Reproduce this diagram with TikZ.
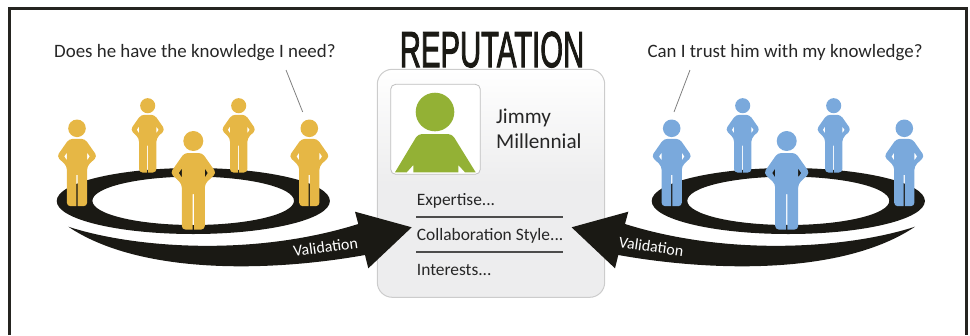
\documentclass[tikz,border=0pt]{standalone}
\usepackage{fontspec}
\setmainfont{Carlito}
\newfontfamily\titlefont[FakeBold=2.5]{Liberation Sans}
\definecolor{persongold}{HTML}{E6B745}
\definecolor{personblue}{HTML}{7AA9DC}
\definecolor{persongreen}{HTML}{93B135}
\definecolor{ringblack}{HTML}{1A1914}
\definecolor{inktext}{HTML}{262626}
\definecolor{cardgrey}{HTML}{EDEDEE}
\tikzset{
    person/.pic={
        \fill[pic actions, even odd rule] (0,0) circle (10)
            [rounded corners=3.5] (-9,12) -- (9,12) -- (23,32) -- (11.5,43) -- (11.5,88.5)
            [sharp corners] -- (0.7,88.5) -- (0.7,53) -- (-0.7,53) -- (-0.7,88.5)
            [rounded corners=3.5] -- (-11.5,88.5) -- (-11.5,43) -- (-23,32) -- cycle
            [sharp corners] (11.5,27.5) -- (14.5,32) -- (11.5,36.5) -- cycle
            (-11.5,27.5) -- (-14.5,32) -- (-11.5,36.5) -- cycle;
    },
    valarrow/.pic={
        \fill[ringblack] (68.3,226.7) .. controls (130,247) and (250,258) .. (358.3,224)
            -- (355,211.7) -- (411.7,227.3) -- (368.3,268.3) -- (365,255)
            .. controls (270,272) and (140,275) .. (68.3,226.7) -- cycle;
    },
    ring/.style={fill=ringblack, even odd rule},
    question/.style={font=\fontsize{18.9}{22}\selectfont, text=inktext, anchor=base west, inner sep=0pt},
    cardtext/.style={font=\fontsize{17.4}{20}\selectfont, text=inktext, anchor=base west, inner sep=0pt},
    nametext/.style={font=\fontsize{21.2}{24}\selectfont, text=inktext, anchor=base west, inner sep=0pt},
    validation/.style={font=\fontsize{16}{18}\selectfont, text=white, inner sep=0pt},
    leader/.style={draw=gray, line width=0.8pt},
    rowline/.style={draw=black!70, line width=1.2pt},
}
\begin{document}
\begin{tikzpicture}[x=1pt, y=-1pt]
\useasboundingbox (0,0) rectangle (970,335);
% frame
\draw[line width=2.7pt, color=ringblack!95] (9.5,335) |- (966.3,8.5) -- (966.3,335);

% reputation card
\node[font=\titlefont\fontsize{50.5}{52}\selectfont, xscale=0.58, text=ringblack, inner sep=0pt, anchor=base] (title) at (492,67) {REPUTATION};
\draw[draw=black!20, line width=1pt, rounded corners=15, top color=white, bottom color=cardgrey, middle color=cardgrey] (377.3,69.3) rectangle (604.7,297.3);
\draw[draw=black!25, fill=white, line width=0.8pt, rounded corners=5] (390.7,84.3) rectangle (480.3,174.3);
\fill[persongreen] (435,112) circle (19.3);
\fill[persongreen] (395,172.3) [rounded corners=4] -- (418,134) -- (452,134) [sharp corners] -- (475.7,172.3) -- (465,172.3) -- (458.3,165) -- (458.3,172.3) -- (413.3,172.3) -- (413.3,165) -- (406.7,172.3) -- cycle;
\node[nametext] (firstname) at (496,123) {Jimmy};
\node[nametext] (lastname) at (496,148) {Millennial};
\node[cardtext] (expertise) at (416.7,205.7) {Expertise...};
\node[cardtext] (collab) at (416.7,240.7) {Collaboration Style...};
\node[cardtext] (interests) at (416.7,275.3) {Interests...};
\coordinate (rowa) at (416.3,217);
\coordinate (rowb) at (416.3,252);
\draw[rowline] (rowa) -- ++(146.7,0);
\draw[rowline] (rowb) -- ++(146.7,0);

% left group
\fill[ring] (193.3,201) ellipse (136.6 and 33) (193.2,200.8) ellipse (100.8 and 24.2);
\pic[fill=persongold, scale=0.755] at (147.7,105.7) {person};
\pic[fill=persongold, scale=0.755] at (238.7,105.7) {person};
\pic[fill=persongold, scale=0.88] at (77,128.3) {person};
\pic[fill=persongold, scale=0.88] at (309.3,128.3) {person};
\pic[fill=persongold] at (193.3,141) {person};
\node[question] (askleft) at (54,57) {Does he have the knowledge I need?};
\coordinate (leftfrom) at (286,70);
\coordinate (leftto) at (302.7,112);
\draw[leader] (leftfrom) -- (leftto);

% right group
\fill[ring] (788.3,201) ellipse (136.6 and 33) (788.3,200.8) ellipse (101 and 24.2);
\pic[fill=personblue, scale=0.755] at (742.7,105.7) {person};
\pic[fill=personblue, scale=0.755] at (833.7,105.7) {person};
\pic[fill=personblue, scale=0.88] at (671.7,128.3) {person};
\pic[fill=personblue, scale=0.88] at (904.3,128.3) {person};
\pic[fill=personblue] at (786.7,141) {person};
\node[question] (askright) at (647.3,57) {Can I trust him with my knowledge?};
\coordinate (rightfrom) at (690,70);
\coordinate (rightto) at (674,112);
\draw[leader] (rightfrom) -- (rightto);

% validation arrows
\pic at (0,0) {valarrow};
\pic[xscale=-1] at (983.3,0) {valarrow};
\node[validation, rotate=7.7] (validleft) at (325.5,247) {Validation};
\node[validation, rotate=-8] (validright) at (651.3,246.5) {Validation};
\end{tikzpicture}
\end{document}
